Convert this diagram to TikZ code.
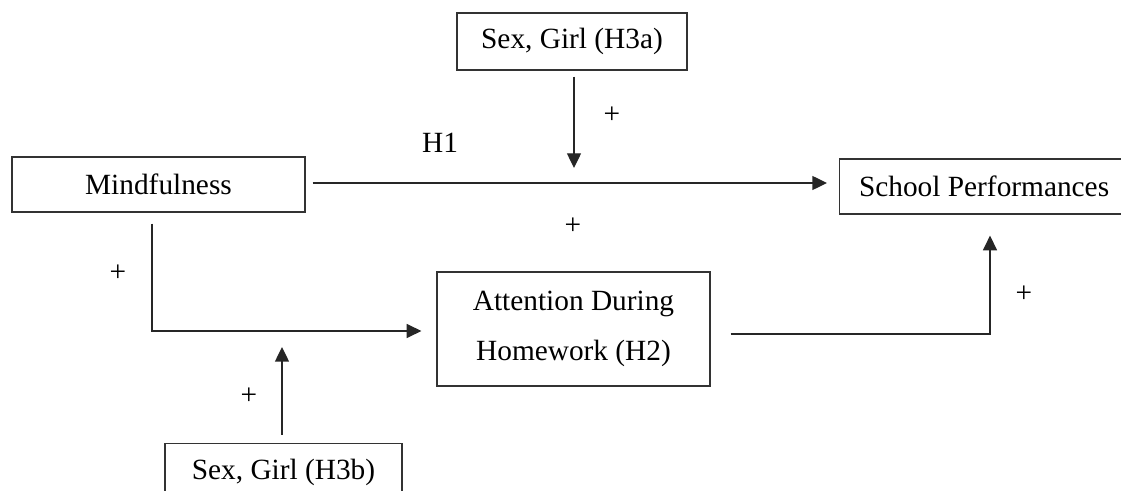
\documentclass[tikz,border=0pt]{standalone}
\usepackage{fontspec}
\setmainfont{Liberation Serif}
\usetikzlibrary{arrows.meta,positioning}

\begin{document}
\begin{tikzpicture}[x=0.75pt, y=-0.75pt,
                      construct/.style = {
                        draw=black!80, line width=0.9pt,
                        text centered, inner sep=0pt,
                        minimum height=41.25pt,
                        fill=white, text=black
                      },
                      moderator/.style = {
                        draw=black!80, line width=0.9pt,
                        text centered, inner sep=0pt,
                        minimum width=172.5pt,
                        minimum height=42.75pt,
                        fill=white, text=black
                      },
                      link/.style = {
                        draw=black!85, line width=1pt,
                        -{Triangle[length=11pt,width=10.5pt]}
                      },
                      sign/.style = {
                        text=black, inner sep=0pt
                      }]
    \useasboundingbox (0,0) rectangle (1121,491);
    \clip (0,0) rectangle (1121,491);
    \fontsize{22pt}{37.5pt}\selectfont

    % boxes
    \node[construct, minimum width=219.75pt] (mind) at (158.5,184.5) {Mindfulness};
    \node[construct, minimum width=216.75pt, anchor=west] (school) at (839,186.5)
        {School Performances};
    \node[moderator] (sexa) at (572,41.5) {Sex, Girl (H3a)};
    \node[construct, minimum width=204.75pt, minimum height=85.5pt,
          align=center] (attn) at (573.5,329)
        {Attention During\\Homework (H2)};
    \node[moderator, minimum width=177.75pt, anchor=north] (sexb) at (283.5,443)
        {Sex, Girl (H3b)};

    % bends
    \coordinate (h1mid) at (574,183);
    \coordinate (mbend) at (152,331);
    \coordinate (hwmid) at (282,331);
    \coordinate (sbend) at (990,334);

    % arrows
    \draw[link, shorten <=5.25pt, shorten >=9pt]
        (mind.east |- h1mid) -- (h1mid -| school.west);
    \draw[link, shorten <=4.5pt, shorten >=11.25pt]
        (sexa.south -| h1mid) -- (h1mid);
    \draw[link, shorten <=8.25pt, shorten >=11.25pt]
        (mbend |- mind.south) -- (mbend) -- (mbend -| attn.west);
    \draw[link, shorten <=6pt, shorten >=12pt]
        (hwmid |- sexb.north) -- (hwmid);
    \draw[link, shorten <=15pt, shorten >=15.75pt]
        (sbend -| attn.east) -- (sbend) -- (sbend |- school.south);

    % labels
    \node[sign] (h1) at (440,143) {H1};
    \node[sign] (pa) at (612,115) {+};
    \node[sign] (pb) at (573,226) {+};
    \node[sign] (pc) at (118,273) {+};
    \node[sign] (pd) at (249,396) {+};
    \node[sign] (pe) at (1024,294) {+};
  \end{tikzpicture}
\end{document}
